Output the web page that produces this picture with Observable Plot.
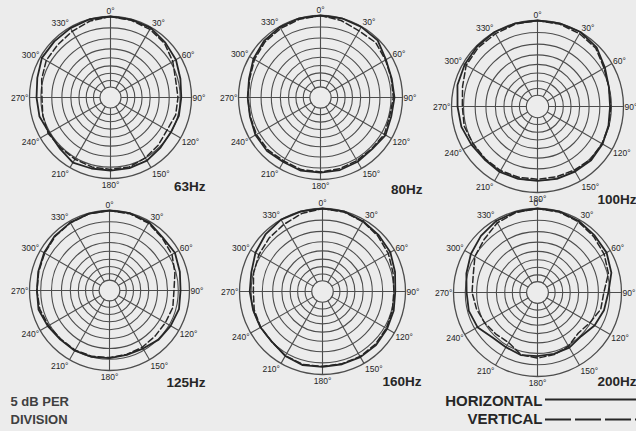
<!DOCTYPE html>
<html><head><meta charset="utf-8">
<script src="https://cdn.jsdelivr.net/npm/d3@7"></script>
<script src="https://cdn.jsdelivr.net/npm/@observablehq/plot@0.6"></script>
<style>
html,body{margin:0;padding:0;background:#ececec;}
#chart{width:636px;height:431px;}
</style></head><body><div id="chart"></div>
<script>
// ---------- DATA ----------
const angles = [0,15,30,45,60,75,90,105,120,135,150,165,180,195,210,225,240,255,270,285,300,315,330,345];
const frequencies = ["63Hz","80Hz","100Hz","125Hz","160Hz","200Hz"];
// dB relative to on-axis, read at each angle
const horizontal63  = [0,-0.2,-0.3,-1.5,-2.4,-3.8,-4.5,-4.5,-5,-4.5,-3.6,-3.5,-3.5,-3.3,-2.6,-4,-4.5,-3.3,-3.1,-2.3,-0.8,-0.7,-0.4,0];
const vertical63    = [0,-0.5,-1,-2,-4,-6,-6,-6,-7,-6,-5,-4,-4,-4,-4.3,-4.5,-4,-4.8,-5.5,-4.3,-3,-2.8,-2,-0.8];
const horizontal80  = [0,0,-0.2,-0.5,-2.8,-3.6,-3.5,-3.8,-3,-3.9,-3.4,-3,-3,-2.7,-3.3,-2.8,-3,-3.9,-4,-3.5,-2,-0.9,-0.3,0];
const vertical80    = [0,-1,-2.2,-1.8,-3,-3.8,-4,-4.5,-3.6,-4.2,-4,-3.6,-3.3,-3.2,-3.8,-3.4,-3.5,-4,-4,-3.8,-2.5,-1.5,-1,-0.4];
const horizontal100 = [0,0,0,-1,-3.4,-5,-5.6,-5.2,-4.5,-4.2,-4.5,-4.6,-4.8,-4.6,-4.3,-4.6,-4,-3,-2.5,-1.3,-0.8,-0.3,0,0];
const vertical100   = [0,-0.3,-0.8,-1.5,-3.8,-5,-5.3,-5,-4.8,-4.6,-5.2,-5.5,-5.5,-5.3,-5,-5,-4.8,-4.2,-4.5,-3.5,-1.5,-1,-0.8,-0.3];
const horizontal125 = [0,0,-0.5,-2.2,-2,-3.2,-4,-3.6,-4.2,-4.7,-5.8,-6,-5.5,-5,-4.7,-4.7,-3.9,-2.9,-3.3,-2.8,-2,-1.2,-0.7,-0.2];
const vertical125   = [0,-0.3,-1,-2.5,-3.5,-5.5,-7,-6.5,-7,-7,-6.5,-6.2,-5.8,-5.3,-5,-5,-4.3,-3.5,-3.3,-3,-2.3,-1.5,-0.8,-0.3];
const horizontal160 = [0,0,-0.8,-1.5,-2,-3.4,-4.4,-4,-3.6,-3.1,-3.1,-3.3,-3.3,-2.9,-3.7,-5,-4.9,-4.8,-4.4,-4,-2.4,-1,0,0];
const vertical160   = [0,-0.3,-1,-2,-3,-4.3,-5,-4.6,-4,-3.6,-3.4,-3.5,-3.5,-3.2,-3.8,-5,-5,-5.3,-6,-5,-4.1,-3.2,-2.4,-1];
const horizontal200 = [0,0,-0.6,-1.4,-1.8,-3.2,-5.6,-6.5,-7.8,-9.6,-8.8,-8.8,-8.8,-8.3,-9,-8.8,-6.3,-5.5,-5.6,-4.4,-3,-1.7,-0.6,-0.2];
const vertical200   = [0,-0.3,-1,-2,-3,-4.5,-7.6,-8,-10.2,-11.6,-9.5,-8.5,-7.9,-8.5,-11.5,-11,-10,-9,-8,-7.5,-5,-3.7,-1.5,-0.5];
const ringLevels = [0,-5,-10,-15,-20,-25,-30,-35,-40];
const spokeAngles = [0,30,60,90,120,150,180,210,240,270,300,330];
const spokeLabels = ["0°","30°","60°","90°","120°","150°","180°","210°","240°","270°","300°","330°"];
const scaleNote = ["5 dB PER","DIVISION"];
const legendLabels = ["HORIZONTAL","VERTICAL"];

// ---------- LAYOUT ----------
const panels = [
  {cx:110, cy:97,  R:81, lx:205, ly:186},
  {cx:320, cy:97,  R:82, lx:422, ly:189},
  {cx:537, cy:106, R:86, lx:636, ly:199},
  {cx:109, cy:290, R:80, lx:205, ly:382},
  {cx:322, cy:291, R:83, lx:421, ly:381},
  {cx:537, cy:292, R:84, lx:636, ly:381}
];
// radius fraction of each grid ring on the printed polar paper
const ringFractions = [1,0.86,0.725,0.60,0.49,0.39,0.30,0.21,0.13];
const radial = d3.scaleLinear().domain(ringLevels).range(ringFractions).clamp(true);
const H = [horizontal63,horizontal80,horizontal100,horizontal125,horizontal160,horizontal200];
const V = [vertical63,vertical80,vertical100,vertical125,vertical160,vertical200];

const rad = a => a*Math.PI/180;
const px = (p,f,a) => p.cx + p.R*f*Math.sin(rad(a));
const py = (p,f,a) => p.cy - p.R*f*Math.cos(rad(a));

const hPts = [], vPts = [];
frequencies.forEach((f,i) => {
  const p = panels[i];
  angles.forEach((a,j) => {
    hPts.push({freq:f, x:px(p,radial(H[i][j]),a), y:py(p,radial(H[i][j]),a)});
    vPts.push({freq:f, x:px(p,radial(V[i][j]),a), y:py(p,radial(V[i][j]),a)});
  });
});

const rings = [];
panels.forEach(p => ringLevels.forEach((lv,k) => rings.push({x:p.cx, y:p.cy, r:p.R*radial(lv), outer:k===0})));

const spokes = [];
panels.forEach(p => spokeAngles.forEach(a => spokes.push({
  x1:px(p,radial(-40),a), y1:py(p,radial(-40),a), x2:px(p,1,a), y2:py(p,1,a)})));

const labels = [];
panels.forEach(p => spokeAngles.forEach((a,k) => {
  const side = (a===0||a===180) ? "middle" : (a<180 ? "start" : "end");
  const off = side==="start" ? 1 : side==="end" ? -1 : 0;
  labels.push({text:spokeLabels[k], side,
    x:px(p,1,a)+off, y:py(p,1,a) - 6*Math.cos(rad(a)) + 1});
}));

const freqLabels = frequencies.map((f,i) => ({text:f, x:panels[i].lx, y:panels[i].ly}));

const gridColor = "#4d4d4d", inkColor = "#262626", textColor = "#262626";
const font = "Liberation Sans, Arial, Helvetica, sans-serif";

const chart = Plot.plot({
  width:636, height:431, margin:0,
  style:{background:"#ececec"},
  x:{domain:[0,636], range:[0,636], axis:null},
  y:{domain:[0,431], range:[0,431], axis:null},
  r:{type:"identity"},
  marks:[
    Plot.dot(rings.filter(d=>!d.outer), {x:"x", y:"y", r:"r", stroke:gridColor, fill:"none", strokeWidth:1.1}),
    Plot.dot(rings.filter(d=>d.outer), {x:"x", y:"y", r:"r", stroke:gridColor, fill:"none", strokeWidth:1.3}),
    Plot.link(spokes, {x1:"x1", y1:"y1", x2:"x2", y2:"y2", stroke:gridColor, strokeWidth:1.1}),
    Plot.line(vPts, {x:"x", y:"y", z:"freq", curve:"linear-closed", stroke:inkColor, strokeWidth:1.5, strokeDasharray:"6 3"}),
    Plot.line(hPts, {x:"x", y:"y", z:"freq", curve:"linear-closed", stroke:inkColor, strokeWidth:1.8}),
    ...["start","end","middle"].map(s => Plot.text(labels.filter(d=>d.side===s), {
      x:"x", y:"y", text:"text", textAnchor:s, lineAnchor:"middle",
      fontSize:8.5, fontFamily:font, fill:textColor})),
    Plot.text(freqLabels, {x:"x", y:"y", text:"text", textAnchor:"end", lineAnchor:"middle",
      fontSize:13.5, fontWeight:"bold", fontFamily:font, fill:textColor}),
    Plot.text(scaleNote, {x:10, y:(d,i)=>401+18*i, text:d=>d, textAnchor:"start", lineAnchor:"middle",
      fontSize:13, fontWeight:"bold", fontFamily:font, fill:"#404040"}),
    Plot.text(legendLabels, {x:542, y:(d,i)=>401+18*i, text:d=>d, textAnchor:"end", lineAnchor:"middle",
      fontSize:15, fontWeight:"bold", fontFamily:font, fill:textColor}),
    Plot.ruleY([399], {x1:545, x2:636, stroke:inkColor, strokeWidth:2.2}),
    Plot.ruleY([419], {x1:545, x2:636, stroke:inkColor, strokeWidth:2.2, strokeDasharray:"26 4"})
  ]
});
document.getElementById("chart").appendChild(chart);
</script>
</body></html>
